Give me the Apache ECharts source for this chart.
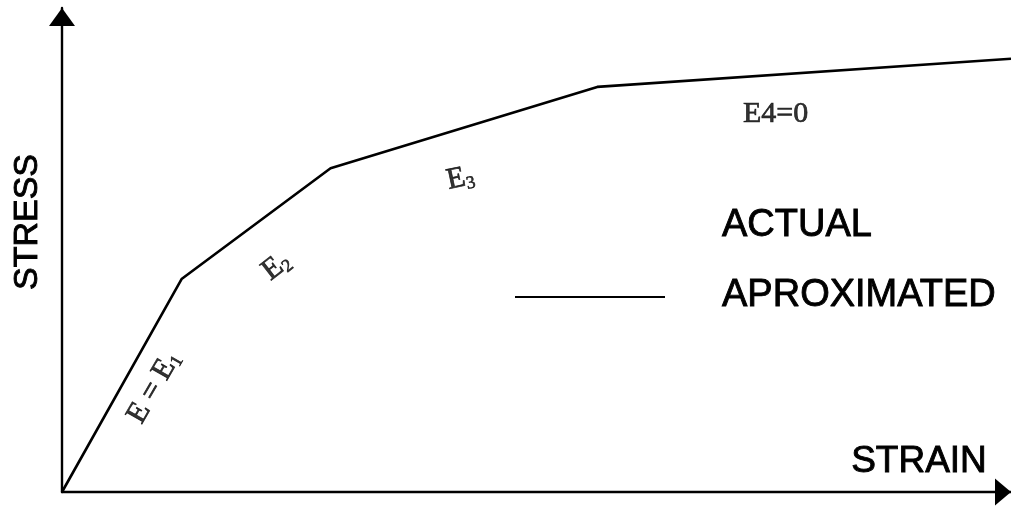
<!DOCTYPE html>
<html>
<head>
<meta charset="utf-8">
<script src="https://cdn.jsdelivr.net/npm/echarts@6/dist/echarts.min.js"></script>
<style>
html,body{margin:0;padding:0;background:#fff;}
#chart{width:1011px;height:506px;}
</style>
</head>
<body>
<div id="chart"></div>
<script>
// Piecewise-linear approximation of the stress–strain curve (arbitrary units)
const strain = [0, 12.6, 28.3, 56.4, 100];
const stress = [0, 44.0, 66.9, 83.7, 89.5];

// Segment modulus labels: position (strain, stress), text, rotation
const segLabelX = [9.7, 22.6, 42.0, 75.2];
const segLabelY = [21.6, 46.6, 64.8, 78.0];
const segLabelText = ['{m|E = E}{s|1}', '{m|E}{s|2}', '{m|E}{s|3}', '{m|E4=0}'];
const segLabelRot = [60, 38, 12, 0];

const axisTitles = { x: 'STRAIN', y: 'STRESS' };
const legendNames = ['ACTUAL', 'APROXIMATED'];

const chart = echarts.init(document.getElementById('chart'), null, {renderer: 'canvas'});

const labelData = segLabelX.map((x, i) => ({
  value: [x, segLabelY[i]],
  label: { formatter: segLabelText[i], rotate: segLabelRot[i] }
}));

const axisCommon = {
  type: 'value', min: 0, max: 100,
  axisTick: {show: false}, axisLabel: {show: false}, splitLine: {show: false}
};

const sansStyle = (size) => ({
  font: size + 'px "Liberation Sans"', fill: '#000',
  stroke: '#000', lineWidth: 0.9
});

chart.setOption({
  backgroundColor: '#fff',
  animation: false,
  grid: {left: 62, right: 0, top: 8, bottom: 14},
  xAxis: Object.assign({}, axisCommon, {
    axisLine: {show: true, onZero: false, lineStyle: {color: '#000', width: 2.4},
      symbol: ['none', 'triangle'], symbolSize: [27, 16], symbolOffset: [0, -8]}
  }),
  yAxis: Object.assign({}, axisCommon, {
    axisLine: {show: true, onZero: false, lineStyle: {color: '#000', width: 2.4},
      symbol: ['none', 'triangle'], symbolSize: [26, 18], symbolOffset: [0, -9]}
  }),
  series: [
    {
      name: legendNames[1], type: 'line', symbol: 'none', clip: false,
      lineStyle: {color: '#000', width: 2.6},
      data: strain.map((x, i) => [x, stress[i]])
    },
    {
      name: 'labels', type: 'scatter', symbolSize: 0, silent: true,
      label: {
        show: true, position: 'inside', color: '#000',
        textBorderColor: '#000', textBorderWidth: 0.7,
        rich: {
          m: {fontFamily: 'Liberation Serif', fontSize: 30, color: '#000', textBorderColor: '#000', textBorderWidth: 0.7},
          s: {fontFamily: 'Liberation Serif', fontSize: 18, color: '#000', textBorderColor: '#000', textBorderWidth: 0.6, padding: [14, 0, 0, 0]}
        }
      },
      data: labelData
    }
  ],
  graphic: [
    {type: 'text', x: 28, y: 222, rotation: Math.PI / 2,
      style: Object.assign(sansStyle(34), {text: axisTitles.y, textAlign: 'center', textVerticalAlign: 'middle'})},
    {type: 'text', x: 919, y: 462,
      style: Object.assign(sansStyle(37), {text: axisTitles.x, textAlign: 'center', textVerticalAlign: 'middle'})},
    {type: 'text', x: 722, y: 226,
      style: Object.assign(sansStyle(38), {text: legendNames[0], textAlign: 'left', textVerticalAlign: 'middle'})},
    {type: 'text', x: 722, y: 296,
      style: Object.assign(sansStyle(38), {text: legendNames[1], textAlign: 'left', textVerticalAlign: 'middle'})},
    {type: 'line', shape: {x1: 515, y1: 297, x2: 665, y2: 297}, style: {stroke: '#000', lineWidth: 2.2}}
  ]
});
</script>
</body>
</html>
